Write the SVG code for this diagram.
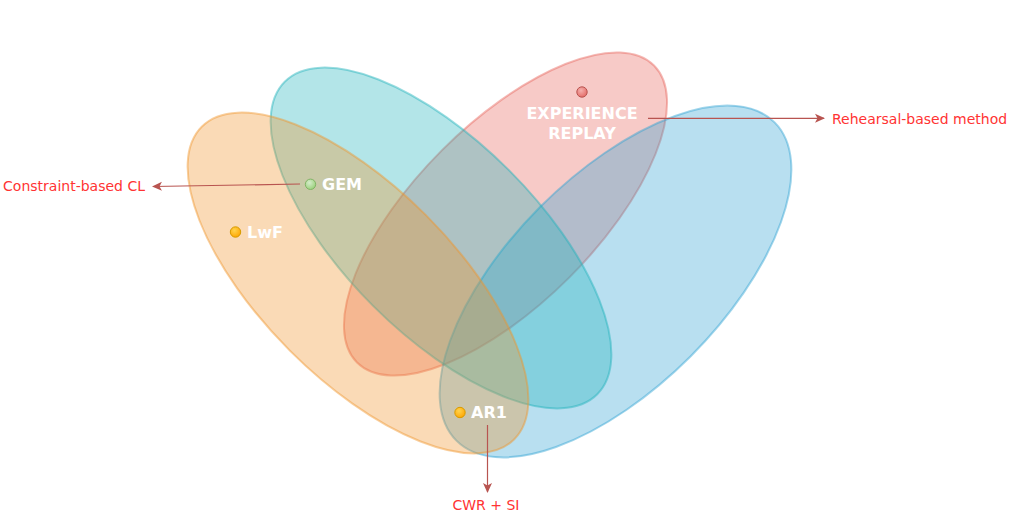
<svg xmlns="http://www.w3.org/2000/svg" width="1012" height="519" viewBox="0 0 1012 519">
<style>
.set{stroke-width:2;}
.lbl{font-family:"DejaVu Sans",Verdana,sans-serif;font-size:16px;font-weight:bold;fill:#ffffff;}
.note{font-family:"DejaVu Sans",Verdana,sans-serif;font-size:14px;fill:#ff3333;}
.conn{stroke:#b85450;stroke-width:1.2;fill:none;marker-end:url(#arr);}
</style>
<defs>
<marker id="arr" viewBox="0 0 10 10" refX="9" refY="5" markerWidth="10" markerHeight="10" markerUnits="userSpaceOnUse" orient="auto">
<path d="M0,0.5 L10,5 L0,9.5 L2.5,5 z" fill="#b85450"/>
</marker>
<radialGradient id="gRed" cx="0.4" cy="0.35" r="0.7"><stop offset="0" stop-color="#f5b0ad"/><stop offset="1" stop-color="#e36a65"/></radialGradient>
<radialGradient id="gGreen" cx="0.4" cy="0.35" r="0.7"><stop offset="0" stop-color="#d5eccb"/><stop offset="1" stop-color="#97d077"/></radialGradient>
<radialGradient id="gOrange" cx="0.4" cy="0.35" r="0.7"><stop offset="0" stop-color="#ffd34d"/><stop offset="1" stop-color="#ffa500"/></radialGradient>
</defs>
<rect width="1012" height="519" fill="#ffffff"/>
<g id="set-replay">
<ellipse class="set" cx="505.5" cy="214" rx="210" ry="90" transform="rotate(-45 505.5 214)" fill="#e7635a" fill-opacity="0.34" stroke="#e7635a" stroke-opacity="0.45"/>
</g>
<g id="set-blue">
<ellipse class="set" cx="615.5" cy="281.5" rx="225" ry="106" transform="rotate(-45 615.5 281.5)" fill="#2ea1d3" fill-opacity="0.34" stroke="#2ea1d3" stroke-opacity="0.45"/>
</g>
<g id="set-teal">
<ellipse class="set" cx="441" cy="238" rx="221" ry="96" transform="rotate(45 441 238)" fill="#1fb2bb" fill-opacity="0.34" stroke="#1fb2bb" stroke-opacity="0.45"/>
</g>
<g id="set-orange">
<ellipse class="set" cx="358" cy="283" rx="221" ry="96" transform="rotate(45 358 283)" fill="#f0942a" fill-opacity="0.34" stroke="#f0942a" stroke-opacity="0.45"/>
</g>
<g id="connectors">
<line class="conn" x1="648" y1="118.3" x2="824" y2="118.3"/>
<line class="conn" x1="300" y1="184" x2="153" y2="186.5"/>
<line class="conn" x1="487.5" y1="425" x2="487.5" y2="492"/>
</g>
<g id="node-experience-replay">
<circle cx="582" cy="92" r="5.2" fill="url(#gRed)" stroke="#b85450" stroke-width="1"/>
<text class="lbl" x="582" y="119" text-anchor="middle">EXPERIENCE</text>
<text class="lbl" x="582" y="139" text-anchor="middle">REPLAY</text>
</g>
<g id="node-gem">
<circle cx="310.5" cy="184.3" r="5.2" fill="url(#gGreen)" stroke="#82b366" stroke-width="1"/>
<text class="lbl" x="322" y="190">GEM</text>
</g>
<g id="node-lwf">
<circle cx="235.5" cy="232" r="5.2" fill="url(#gOrange)" stroke="#d79b00" stroke-width="1"/>
<text class="lbl" x="247" y="238">LwF</text>
</g>
<g id="node-ar1">
<circle cx="460" cy="412.5" r="5.2" fill="url(#gOrange)" stroke="#d79b00" stroke-width="1"/>
<text class="lbl" x="471" y="418">AR1</text>
</g>
<g id="note-rehearsal">
<text class="note" x="832" y="124">Rehearsal-based method</text>
</g>
<g id="note-constraint">
<text class="note" x="145" y="191" text-anchor="end">Constraint-based CL</text>
</g>
<g id="note-cwr">
<text class="note" x="486" y="510" text-anchor="middle">CWR + SI</text>
</g>
</svg>
